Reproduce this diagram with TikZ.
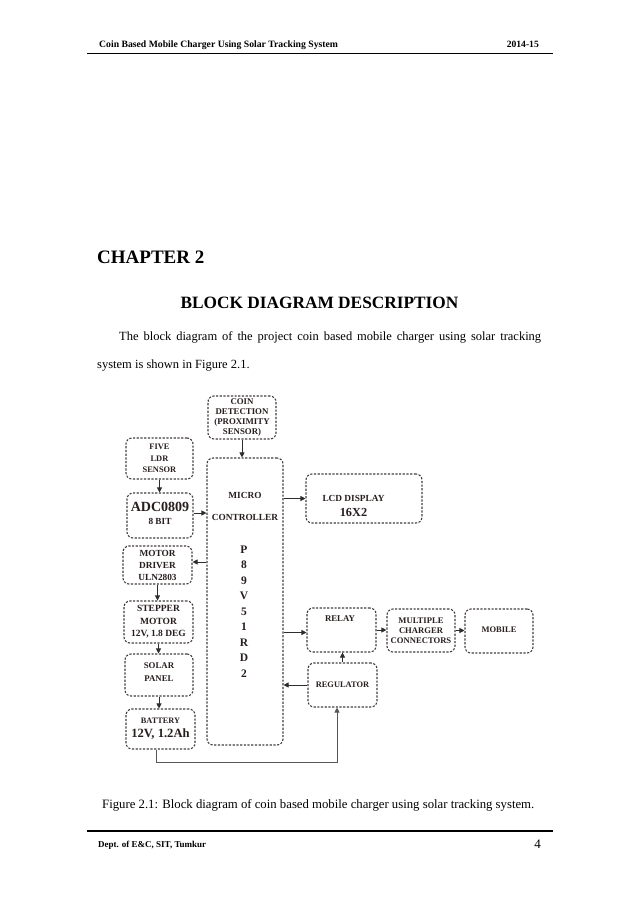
\documentclass[tikz,border=0pt]{standalone}
\usepackage{fontspec}
\setmainfont{Liberation Serif}
\usetikzlibrary{arrows.meta,calc}
\definecolor{boxline}{RGB}{70,62,62}
\definecolor{boxtext}{RGB}{40,30,30}
\definecolor{arrowcol}{RGB}{45,45,45}
\newcommand{\fs}[2]{\fontsize{#1}{#2}\selectfont}
\begin{document}
\begin{tikzpicture}[x=1pt,y=-1pt,
  box/.style={draw=boxline, line width=1.1pt, dash pattern=on 2.2pt off 1.5pt,
    rounded corners=6pt, align=center, inner sep=0pt, text=boxtext, font=\bfseries},
  lbl/.style={text=boxtext, font=\bfseries, inner sep=0pt},
  conn/.style={draw=arrowcol, line width=0.9pt, -{Triangle[length=5pt,width=5pt]}},
  txt/.style={inner sep=0pt, anchor=base west}]
\useasboundingbox[fill=white] (0,0) rectangle (638,903);

% header and footer
\node[txt, font=\bfseries\fs{9.7}{11}] (head) at (99,47) {Coin Based Mobile Charger Using Solar Tracking System};
\node[inner sep=0pt, anchor=base east, font=\bfseries\fs{9.6}{11}] (year) at (539,47) {2014-15};
\coordinate (hl) at (87,53.5);
\coordinate (hr) at (553,53.5);
\draw[line width=1.6pt] (hl) -- (hr);

\node[txt, font=\bfseries\fs{19}{22}] (chap) at (97,263) {CHAPTER 2};
\node[inner sep=0pt, anchor=base, font=\bfseries\fs{17.3}{20}] (title) at (319.5,308) {BLOCK DIAGRAM DESCRIPTION};
\node[txt, font=\fs{12.5}{14}] (body1) at (119,340) {\makebox[422pt][s]{The block diagram of the project coin based mobile charger using solar tracking}};
\node[txt, font=\fs{12.5}{14}] (body2) at (97,368) {system is shown in Figure 2.1.};

\node[txt, font=\fs{12.75}{14}] (cap) at (102,808) {Figure 2.1: Block diagram of coin based mobile charger using solar tracking system.};
\coordinate (fl) at (87,831);
\coordinate (fr) at (553,831);
\draw[line width=1.6pt] (fl) -- (fr);
\node[txt, font=\bfseries\fs{9}{11}] (dept) at (98,847) {Dept. of E\&C, SIT, Tumkur};
\node[inner sep=0pt, anchor=base east, font=\fs{13}{15}] (page) at (541,848) {4};

% blocks
\node[box, minimum width=68pt, minimum height=43pt, font=\bfseries\fs{8.8}{9.7}] (coin) at (242,417.5) {COIN\\DETECTION\\(PROXIMITY\\SENSOR)};
\node[box, minimum width=67pt, minimum height=41pt, font=\bfseries\fs{8.4}{11.5}] (ldr) at (159.5,458.5) {FIVE\\LDR\\SENSOR};
\node[box, minimum width=66pt, minimum height=45pt] (adc) at (160,515.5) {};
\node[lbl, font=\bfseries\fs{14}{16}, anchor=base] (adct) at (160,511) {ADC0809};
\node[lbl, font=\bfseries\fs{9.3}{11}, anchor=base] (adcb) at (160,524.5) {8 BIT};
\node[box, minimum width=76pt, minimum height=287pt] (mc) at (245,601.5) {};
\node[lbl, font=\bfseries\fs{9.3}{11}, anchor=base] (mct1) at (245,498.5) {MICRO};
\node[lbl, font=\bfseries\fs{9.3}{11}, anchor=base] (mct2) at (245,520.5) {CONTROLLER};
\foreach \c [count=\i] in {P,8,9,V,5,1,R,D,2}
  \node[lbl, font=\bfseries\fs{11.5}{13}, anchor=base] (mcv\i) at (244,{553+15.5*(\i-1)}) {\c};
\node[box, minimum width=116pt, minimum height=49pt] (lcd) at (364,498.5) {};
\node[lbl, font=\bfseries\fs{9.3}{11}, anchor=base] (lcdt1) at (353.5,501) {LCD DISPLAY};
\node[lbl, font=\bfseries\fs{12.3}{14}, anchor=base] (lcdt2) at (353.5,516) {16X2};
\node[box, minimum width=69pt, minimum height=38pt, font=\bfseries\fs{9.3}{12}] (md) at (157.5,565) {MOTOR\\DRIVER\\ULN2803};
\node[box, minimum width=69pt, minimum height=42pt, font=\bfseries\fs{9.5}{12.5}] (sm) at (158.5,622) {STEPPER\\MOTOR\\12V, 1.8 DEG};
\node[box, minimum width=68pt, minimum height=42pt] (sp) at (159,675) {};
\node[lbl, font=\bfseries\fs{8.8}{13}, align=center] (spt) at (159,672) {SOLAR\\PANEL};
\node[box, minimum width=69pt, minimum height=40pt] (bat) at (160.5,729) {};
\node[lbl, font=\bfseries\fs{8.3}{10}, anchor=base] (batt1) at (160.5,723) {BATTERY};
\node[lbl, font=\bfseries\fs{12.6}{14}, anchor=base] (batt2) at (160.5,737.5) {12V, 1.2Ah};
\node[box, minimum width=69pt, minimum height=44pt] (relay) at (341.5,630) {};
\node[lbl, font=\bfseries\fs{8.8}{10}, anchor=base] (relayt) at (340,621) {RELAY};
\node[box, minimum width=68pt, minimum height=43pt, font=\bfseries\fs{8.6}{10}] (mcc) at (421,630.5) {MULTIPLE\\CHARGER\\CONNECTORS};
\node[box, minimum width=68pt, minimum height=44pt, font=\bfseries\fs{8.5}{10}] (mob) at (499,631) {\raisebox{3pt}{MOBILE}};
\node[box, minimum width=69pt, minimum height=44pt, font=\bfseries\fs{8.4}{10}] (reg) at (342.5,685) {REGULATOR};

% connectors
\draw[conn] (coin.south) -- (coin.south |- mc.north);
\draw[conn] (ldr.south) -- (ldr.south |- adc.north);
\draw[conn] ([yshift=2.5pt]adc.east) -- ([yshift=2.5pt]adc.east -| mc.west);
\draw[conn] (lcd.west -| mc.east) -- (lcd.west);
\draw[conn] ([yshift=3pt]md.east -| mc.west) -- ([yshift=3pt]md.east);
\draw[conn] (md.south) -- (md.south |- sm.north);
\draw[conn] (sm.south) -- (sm.south |- sp.north);
\draw[conn] (sp.south) -- (sp.south |- bat.north);
\draw[conn] ([yshift=-2.5pt]relay.west -| mc.east) -- ([yshift=-2.5pt]relay.west);
\draw[conn] (relay.east) -- (relay.east -| mcc.west);
\draw[conn] (mcc.east) -- (mcc.east -| mob.west);
\draw[conn] (reg.north) -- (reg.north |- relay.south);
\draw[conn] (reg.west) -- (reg.west -| mc.east);
\coordinate (botline) at (0,762);
\draw[conn, draw=arrowcol!80] ([xshift=-4.5pt]bat.south) -- ([xshift=-4.5pt]bat.south |- botline) -| ([xshift=-5.5pt]reg.south);
\end{tikzpicture}
\end{document}
